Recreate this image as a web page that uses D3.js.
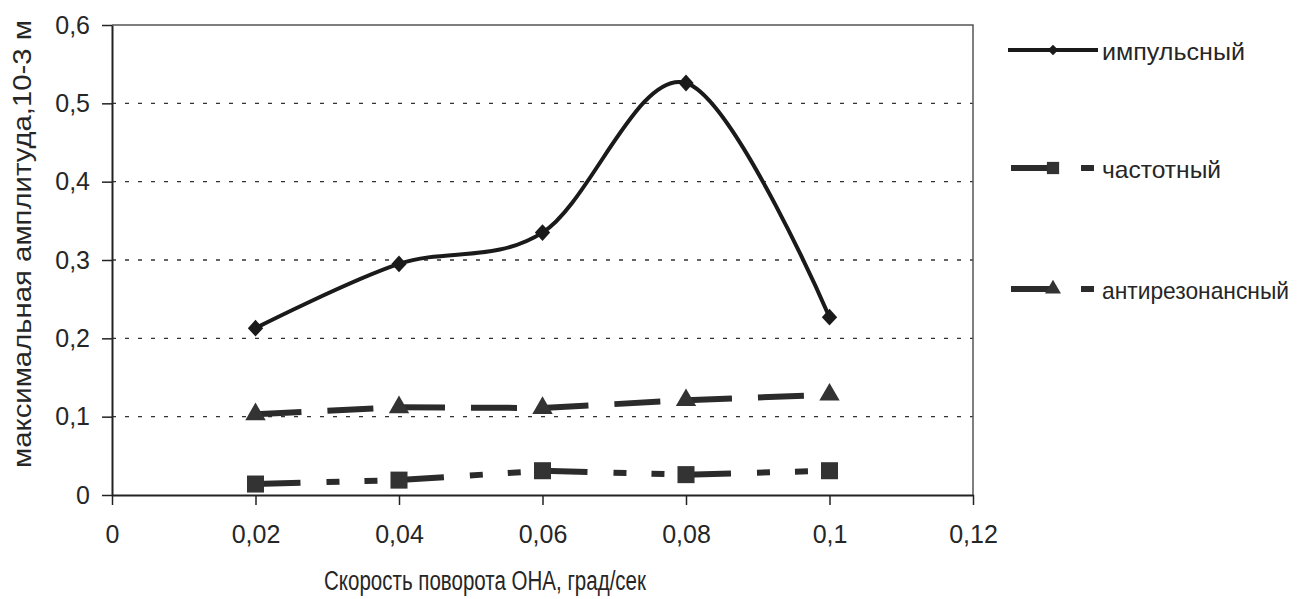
<!DOCTYPE html>
<html>
<head>
<meta charset="utf-8">
<script src="https://cdn.jsdelivr.net/npm/d3@7"></script>
<style>
  body { margin: 0; background: #fff; }
  text { font-family: "Liberation Sans", Arial, sans-serif; fill: #262626; }
</style>
</head>
<body>
<svg id="chart" width="1310" height="599"></svg>
<script>
// speeds, град/сек
const speeds = [0.02, 0.04, 0.06, 0.08, 0.1];
const impulse = [0.213, 0.295, 0.335, 0.526, 0.227];
const frequency = [0.014, 0.019, 0.031, 0.026, 0.031];
const antiresonance = [0.103, 0.112, 0.111, 0.121, 0.128];
const seriesNames = ["импульсный", "частотный", "антирезонансный"];
const xTicks = [0, 0.02, 0.04, 0.06, 0.08, 0.1, 0.12];
const yTicks = [0, 0.1, 0.2, 0.3, 0.4, 0.5, 0.6];

const svg = d3.select("#chart");
const margin = {top: 25, right: 337, bottom: 104, left: 112};
const width = 1310 - margin.left - margin.right;
const height = 599 - margin.top - margin.bottom;

const x = d3.scaleLinear().domain([0, 0.12]).range([0, width]);
const y = d3.scaleLinear().domain([0, 0.6]).range([height, 0]);
const fmt = d => String(d).replace(".", ",");

const g = svg.append("g")
  .attr("transform", "translate(" + margin.left + "," + margin.top + ")");

// grid
g.selectAll(".grid")
  .data(yTicks.filter(d => d > 0 && d < 0.6))
  .enter().append("line")
  .attr("x1", 0).attr("x2", width)
  .attr("y1", d => y(d)).attr("y2", d => y(d))
  .attr("stroke", "#333").attr("stroke-width", 1.3)
  .attr("stroke-dasharray", "4,9");

// frame top/right
g.append("path")
  .attr("d", "M0,0H" + width + "V" + height)
  .attr("fill", "none").attr("stroke", "#555").attr("stroke-width", 1.5);

// axes
const xAxis = g.append("g")
  .attr("transform", "translate(0," + height + ")")
  .call(d3.axisBottom(x).tickValues(xTicks).tickFormat(fmt).tickSizeInner(10).tickSizeOuter(0).tickPadding(20));
const yAxis = g.append("g")
  .call(d3.axisLeft(y).tickValues(yTicks).tickFormat(fmt).tickSizeInner(10).tickSizeOuter(0).tickPadding(12));
[xAxis, yAxis].forEach(a => {
  a.select(".domain").attr("stroke", "#222").attr("stroke-width", 2);
  a.selectAll(".tick line").attr("stroke", "#222").attr("stroke-width", 1.5);
  a.selectAll(".tick text").attr("font-size", 25).attr("fill", "#262626")
    .attr("font-family", "Liberation Sans, Arial, sans-serif");
});

// impulse series: smoothed line with diamonds
const pts = s => speeds.map((v, i) => [x(v), y(s[i])]);
g.append("path")
  .attr("d", d3.line().curve(d3.curveCardinal.tension(0))(pts(impulse)))
  .attr("fill", "none").attr("stroke", "#1a1a1a").attr("stroke-width", 4);

// dashed series: dash pattern restarts on each segment
function dashedSeries(vals, dash) {
  const p = pts(vals);
  for (let i = 0; i < p.length - 1; i++) {
    g.append("path")
      .attr("d", d3.line()([p[i], p[i + 1]]))
      .attr("fill", "none").attr("stroke", "#2b2b2b").attr("stroke-width", 6)
      .attr("stroke-dasharray", dash);
  }
}
const dashDotDot = "45,26,13,25,13,25";
const longDash = "46,26";
dashedSeries(frequency, dashDotDot);
dashedSeries(antiresonance, longDash);

const diamond = d3.symbol().type(d3.symbolDiamond2).size(150);
const square = d3.symbol().type(d3.symbolSquare).size(290);
const triangle = d3.symbol().type(d3.symbolTriangle).size(180);

g.selectAll(".m-imp").data(pts(impulse)).enter().append("path")
  .attr("d", diamond).attr("transform", d => "translate(" + d + ") scale(1,1.1)").attr("fill", "#1a1a1a");
g.selectAll(".m-freq").data(pts(frequency)).enter().append("path")
  .attr("d", square).attr("transform", d => "translate(" + d + ")").attr("fill", "#333");
g.selectAll(".m-anti").data(pts(antiresonance)).enter().append("path")
  .attr("d", triangle).attr("transform", d => "translate(" + d + ")").attr("fill", "#333");

// axis titles
svg.append("text")
  .attr("x", 324).attr("y", 590)
  .attr("font-size", 27).attr("textLength", 322).attr("lengthAdjust", "spacingAndGlyphs")
  .text("Скорость поворота ОНА, град/сек");
svg.append("text")
  .attr("transform", "translate(31,244) rotate(-90)")
  .attr("text-anchor", "middle").attr("font-size", 26)
  .attr("textLength", 448).attr("lengthAdjust", "spacingAndGlyphs")
  .text("максимальная амплитуда,10-3 м");

// legend
const legendY = [50, 168, 289];
const legendW = [143, 119, 187];
const leg = svg.append("g");
const legDiamond = d3.symbol().type(d3.symbolDiamond2).size(70);
const legSquare = d3.symbol().type(d3.symbolSquare).size(150);
const legTriangle = d3.symbol().type(d3.symbolTriangle).size(110);
// impulse
leg.append("line").attr("x1", 1008).attr("x2", 1098).attr("y1", legendY[0]).attr("y2", legendY[0])
  .attr("stroke", "#1a1a1a").attr("stroke-width", 4);
leg.append("path").attr("d", legDiamond).attr("transform", "translate(1053," + legendY[0] + ")").attr("fill", "#1a1a1a");
// dashed ones
[1, 2].forEach(k => {
  leg.append("line").attr("x1", 1011).attr("x2", 1050).attr("y1", legendY[k]).attr("y2", legendY[k])
    .attr("stroke", "#2b2b2b").attr("stroke-width", 6);
  leg.append("line").attr("x1", 1081).attr("x2", 1094).attr("y1", legendY[k]).attr("y2", legendY[k])
    .attr("stroke", "#2b2b2b").attr("stroke-width", 6);
  leg.append("path").attr("d", k === 1 ? legSquare : legTriangle)
    .attr("transform", "translate(1053," + legendY[k] + ")").attr("fill", "#333");
});
leg.selectAll(".lt").data(seriesNames).enter().append("text")
  .attr("x", 1102).attr("y", (d, i) => legendY[i] + 10)
  .attr("font-size", 24)
  .attr("textLength", (d, i) => legendW[i]).attr("lengthAdjust", "spacingAndGlyphs")
  .text(d => d);
</script>
</body>
</html>
